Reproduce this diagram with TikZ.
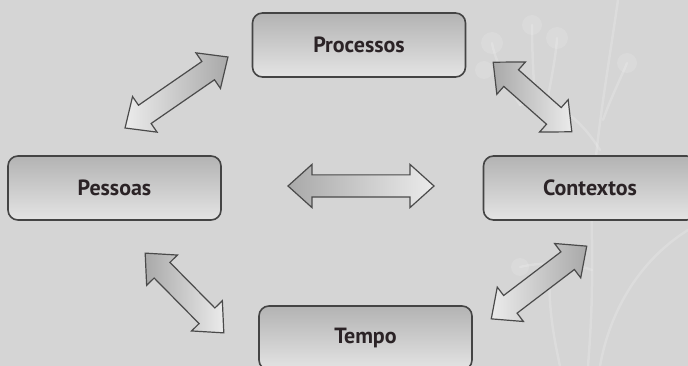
\documentclass[tikz,border=0pt]{standalone}
\usepackage{fontspec}
\setmainfont{PT Sans}
\usetikzlibrary{shapes.arrows}
\definecolor{paper}{HTML}{D5D5D5}
\definecolor{boxtop}{HTML}{B3B3B3}
\definecolor{boxbot}{HTML}{E4E4E4}
\definecolor{boxline}{HTML}{444444}
\definecolor{arrdark}{HTML}{A9A9A9}
\definecolor{arrlight}{HTML}{EBEBEB}
\definecolor{arrline}{HTML}{4A4A4A}
\definecolor{ink}{HTML}{2B2326}
\begin{document}
\begin{tikzpicture}[x=1pt,y=-1pt,
  stage/.style={rounded corners=10pt, draw=boxline, line width=1.6pt,
    top color=boxtop, bottom color=boxbot, minimum width=213pt,
    minimum height=64pt, inner sep=0pt,
    font=\fontsize{22}{25}\selectfont\bfseries, text=ink},
  link/.style={double arrow, draw=arrline, line width=1.2pt,
    inner xsep=0pt, inner ysep=10.5pt, text height=0pt, text depth=0pt,
    double arrow tip angle=84, double arrow head extend=10.5pt},
  darkleft/.style={left color=arrdark, right color=arrlight},
  darkright/.style={left color=arrlight, right color=arrdark},
  twig/.style={draw=white, opacity=0.17, line width=2.5pt, line cap=round},
  bud/.style={fill=white, opacity=0.12}]
% canvas
\fill[paper] (0,0) rectangle (688,366);
\useasboundingbox (0,0) rectangle (688,366);
\begin{scope}
\clip (0,0) rectangle (688,366);
% faint plant ornament
\draw[twig] (618,0) .. controls (605,90) and (590,170) .. (592,240) .. controls (593,300) and (590,340) .. (588,366);
\draw[twig] (600,150) .. controls (575,110) and (545,95) .. (520,105);
\draw[twig] (520,105) .. controls (505,80) and (495,60) .. (492,43);
\draw[twig] (535,100) .. controls (533,70) and (532,45) .. (532,25);
\draw[twig] (548,97) .. controls (552,75) and (556,55) .. (557,38);
\draw[twig] (603,120) .. controls (612,95) and (620,80) .. (627,63);
\draw[twig] (688,230) .. controls (640,260) and (610,310) .. (600,366);
\draw[twig] (592,270) .. controls (570,262) and (540,262) .. (520,267);
\draw[twig] (560,366) .. controls (552,330) and (548,300) .. (550,270);
\fill[bud] (492,43) circle (11);
\fill[bud] (532,25) circle (10);
\fill[bud] (557,38) circle (11);
\fill[bud] (627,63) circle (10);
\fill[bud] (484,70) circle (9);
\fill[bud] (520,267) circle (9);
\end{scope}
% the four stages
\node[stage] (proc) at (359,45) {Processos};
\node[stage] (pess) at (114.5,188) {Pessoas};
\node[stage] (cont) at (590,188) {Contextos};
\node[stage] (temp) at (365.5,338) {Tempo};
% two-way links between stages
\node[link, darkleft, minimum height=146pt] (mid) at (361,186) {};
\node[link, darkright, minimum height=125pt, rotate=34.6] (pp) at (176.5,92.5) {};
\node[link, darkleft, minimum height=105pt, rotate=138.5] (pc) at (532.5,97) {};
\node[link, darkleft, minimum height=112pt, rotate=134.6] (pt) at (184.5,293) {};
\node[link, darkright, minimum height=120pt, rotate=37.3] (ct) at (539,282.5) {};
\end{tikzpicture}
\end{document}
